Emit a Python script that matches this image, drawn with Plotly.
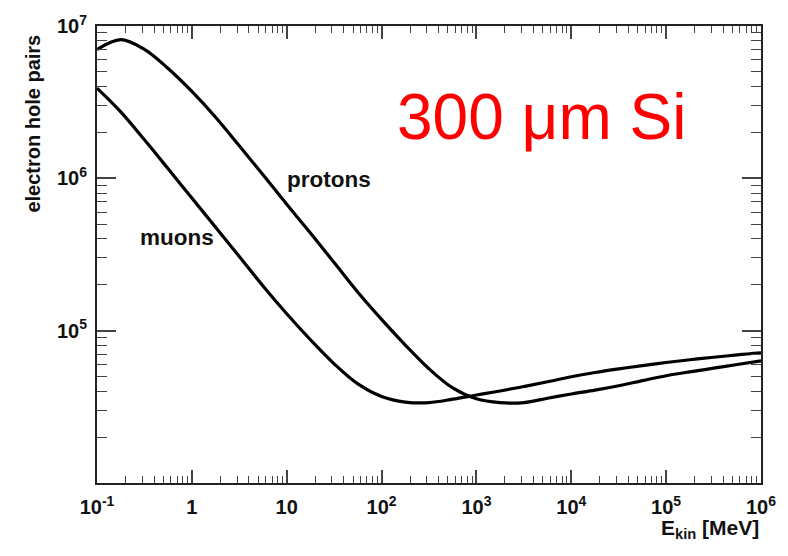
import numpy as np
import plotly.graph_objects as go

# Data: kinetic energy grid (log10 MeV, 0.25-decade steps) and electron-hole pairs
log_E = [-1.0, -0.75, -0.5, -0.25, 0.0, 0.25, 0.5, 0.75, 1.0, 1.25, 1.5, 1.75, 2.0, 2.25, 2.5,
         2.75, 3.0, 3.25, 3.5, 3.75, 4.0, 4.25, 4.5, 4.75, 5.0, 5.25, 5.5, 5.75, 6.0]

proton_N = [7.00e6, 8.15e6, 7.03e6, 5.26e6, 3.72e6, 2.52e6, 1.636e6, 1.054e6, 6.77e5, 4.37e5,
            2.80e5, 1.788e5, 1.186e5, 8.05e4, 5.62e4, 4.21e4, 3.57e4, 3.37e4, 3.37e4, 3.60e4,
            3.84e4, 4.07e4, 4.35e4, 4.70e4, 5.06e4, 5.37e4, 5.67e4, 6.00e4, 6.33e4]

muon_N = [3.91e6, 2.73e6, 1.789e6, 1.155e6, 7.42e5, 4.78e5, 3.07e5, 1.964e5, 1.291e5, 8.72e4,
          6.06e4, 4.47e4, 3.70e4, 3.40e4, 3.37e4, 3.55e4, 3.78e4, 4.02e4, 4.30e4, 4.62e4,
          4.98e4, 5.31e4, 5.61e4, 5.90e4, 6.18e4, 6.44e4, 6.69e4, 6.93e4, 7.14e4]

energy_MeV = [10.0 ** v for v in log_E]

x_tickvals = [1e-1, 1, 10, 1e2, 1e3, 1e4, 1e5, 1e6]
x_ticktext = ["<b>10<sup>-1</sup></b>", "<b>1</b>", "<b>10</b>", "<b>10<sup>2</sup></b>",
              "<b>10<sup>3</sup></b>", "<b>10<sup>4</sup></b>", "<b>10<sup>5</sup></b>", "<b>10<sup>6</sup></b>"]
y_tickvals = [1e5, 1e6, 1e7]
y_ticktext = ["<b>10<sup>5</sup></b>", "<b>10<sup>6</sup></b>", "<b>10<sup>7</sup></b>"]

x_minor = [k * 10.0 ** d for d in range(-1, 6) for k in range(2, 10)]
y_minor = [k * 10.0 ** d for d in range(4, 7) for k in range(2, 10)]

FONT = "Liberation Sans, Arial, sans-serif"

fig = go.Figure()
fig.add_trace(go.Scatter(x=energy_MeV, y=proton_N, mode="lines", name="protons",
                         line=dict(color="black", width=3.2, shape="spline", smoothing=1.0),
                         showlegend=False))
fig.add_trace(go.Scatter(x=energy_MeV, y=muon_N, mode="lines", name="muons",
                         line=dict(color="black", width=3.2, shape="spline", smoothing=1.0),
                         showlegend=False))

axis_common = dict(
    type="log", showgrid=False, zeroline=False,
    showline=True, linecolor="#222", linewidth=2, mirror="allticks",
    ticks="inside", tickcolor="#444", tickwidth=1.5,
    tickfont=dict(family=FONT, size=20, color="#111"),
)

fig.update_xaxes(**axis_common, range=[-1, 6], tickmode="array",
                 tickvals=x_tickvals, ticktext=x_ticktext, ticklen=13,
                 ticklabelstandoff=5,
                 minor=dict(ticks="inside", ticklen=7, tickcolor="#444", tickwidth=1.2,
                            tickmode="array", tickvals=x_minor, showgrid=False))
fig.update_yaxes(**axis_common, range=[4, 7], tickmode="array",
                 tickvals=y_tickvals, ticktext=y_ticktext, ticklen=19,
                 ticklabelstandoff=4,
                 minor=dict(ticks="inside", ticklen=10, tickcolor="#444", tickwidth=1.2,
                            tickmode="array", tickvals=y_minor, showgrid=False))

annotations = [
    dict(text="<b>protons</b>", x=1.449, y=5.99, xref="x", yref="y", showarrow=False,
         font=dict(family=FONT, size=22.5, color="#111"), xanchor="center", yanchor="middle"),
    dict(text="<b>muons</b>", x=-0.159, y=5.61, xref="x", yref="y", showarrow=False,
         font=dict(family=FONT, size=22.5, color="#111"), xanchor="center", yanchor="middle"),
    dict(text="300 \u03bcm Si", x=3.688, y=6.40, xref="x", yref="y", showarrow=False,
         font=dict(family=FONT, size=64, color="#ff0000"), xanchor="center", yanchor="middle"),
    dict(text="<b>electron hole pairs</b>", x=-0.096, y=0.787, xref="paper", yref="paper",
         showarrow=False, textangle=-90, font=dict(family=FONT, size=20, color="#111"),
         xanchor="center", yanchor="middle"),
    dict(text="<b>E<sub>kin</sub> [MeV]</b>", x=1.0, y=-0.101, xref="paper", yref="paper",
         showarrow=False, font=dict(family=FONT, size=21, color="#111"),
         xanchor="right", yanchor="middle"),
]

fig.update_layout(
    width=788, height=556,
    margin=dict(l=97, r=25, t=19, b=73),
    paper_bgcolor="white", plot_bgcolor="white",
    annotations=annotations,
)

fig.write_html("out.html")
